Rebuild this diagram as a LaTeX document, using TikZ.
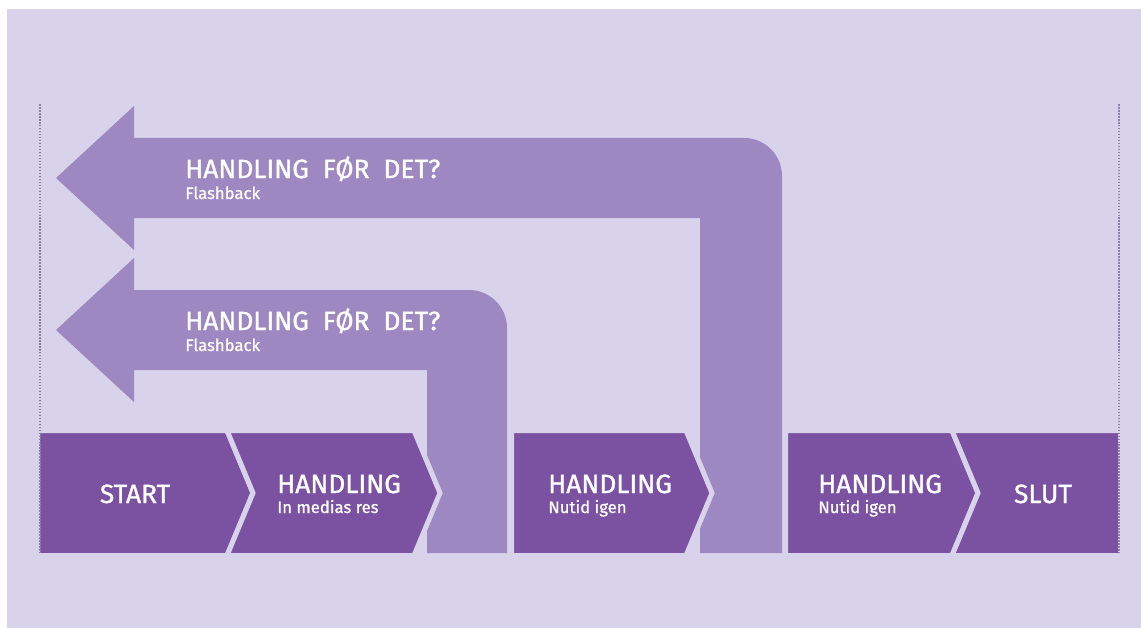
\documentclass[tikz,border=0pt]{standalone}
\usepackage{fontspec}
\setmainfont{Fira Sans}
\newfontfamily\headfont[FakeBold=1.1, WordSpace=2]{Fira Sans}
\newfontfamily\subfont[FakeBold=0.8]{Fira Sans}
\usetikzlibrary{positioning}

\definecolor{paper}{HTML}{D8D3EA}
\definecolor{stepcol}{HTML}{7B52A2}
\definecolor{flashcol}{HTML}{9E88C1}
\definecolor{dotcol}{HTML}{8A7FA5}

\begin{document}
\begin{tikzpicture}[
    x=0.02cm, y=-0.02cm,
    stepbox/.style={
        fill=stepcol,
        draw=paper,
        line width=0.1cm,
        line join=miter
    },
    flash/.style={fill=flashcol},
    guide/.style={dotcol, line width=0.9pt, dash pattern=on 0.9pt off 0.8pt},
    head/.style={text=white, inner sep=0pt, font=\headfont\fontsize{15}{18}\selectfont},
    sub/.style={text=white, inner sep=0pt, font=\subfont\fontsize{9.5}{11}\selectfont}
]

\useasboundingbox (0,0) rectangle (1141,628);
\fill[white] (0,0) rectangle (1141,628);
\fill[paper] (7,9) rectangle (1141,628);

% === Flashback arrows ===
\fill[flash] (700,553) -- (700,218) -- (134,218) -- (134,250) -- (56,178)
    -- (134,106) -- (134,138) -- (744,138)
    arc[start angle=-90, end angle=0, radius=38] -- (782,553) -- cycle;
\fill[flash] (427,553) -- (427,370) -- (134,370) -- (134,402) -- (56,330)
    -- (134,258) -- (134,290) -- (469,290)
    arc[start angle=-90, end angle=0, radius=38] -- (507,553) -- cycle;

\node[head, anchor=base west] (fb1) at (185,178) {HANDLING FØR DET?};
\node[sub, anchor=base west] (fb1sub) at (185,199) {Flashback};
\node[head, anchor=base west] (fb2) at (185,330) {HANDLING FØR DET?};
\node[sub, anchor=base west] (fb2sub) at (185,351) {Flashback};

% === Story line ===
\path[stepbox] (37.5,430.5) -- (227,430.5) -- (253,493) -- (227,555.5)
    -- (37.5,555.5) -- cycle;
\path[stepbox] (227,430.5) -- (414,430.5) -- (440,493) -- (414,555.5)
    -- (227,555.5) -- (253,493) -- cycle;
\path[stepbox] (511.5,430.5) -- (686,430.5) -- (712,493) -- (686,555.5)
    -- (511.5,555.5) -- cycle;
\path[stepbox] (785.5,430.5) -- (952,430.5) -- (978,493) -- (952,555.5)
    -- (785.5,555.5) -- cycle;
\path[stepbox] (952,430.5) -- (1120.5,430.5) -- (1120.5,555.5) -- (952,555.5)
    -- (978,493) -- cycle;

\node[head, anchor=base] (start) at (135,503) {START};
\node[head, anchor=base west] (act1) at (277,493) {HANDLING};
\node[sub, anchor=base west] (act1sub) at (277,513) {In medias res};
\node[head, anchor=base west] (act2) at (548,493) {HANDLING};
\node[sub, anchor=base west] (act2sub) at (548,513) {Nutid igen};
\node[head, anchor=base west] (act3) at (818,493) {HANDLING};
\node[sub, anchor=base west] (act3sub) at (818,513) {Nutid igen};
\node[head, anchor=base] (slut) at (1043,503) {SLUT};

% Time limits
\draw[guide] (40,104) -- (40,553);
\draw[guide] (1119,104) -- (1119,553);

\end{tikzpicture}
\end{document}
